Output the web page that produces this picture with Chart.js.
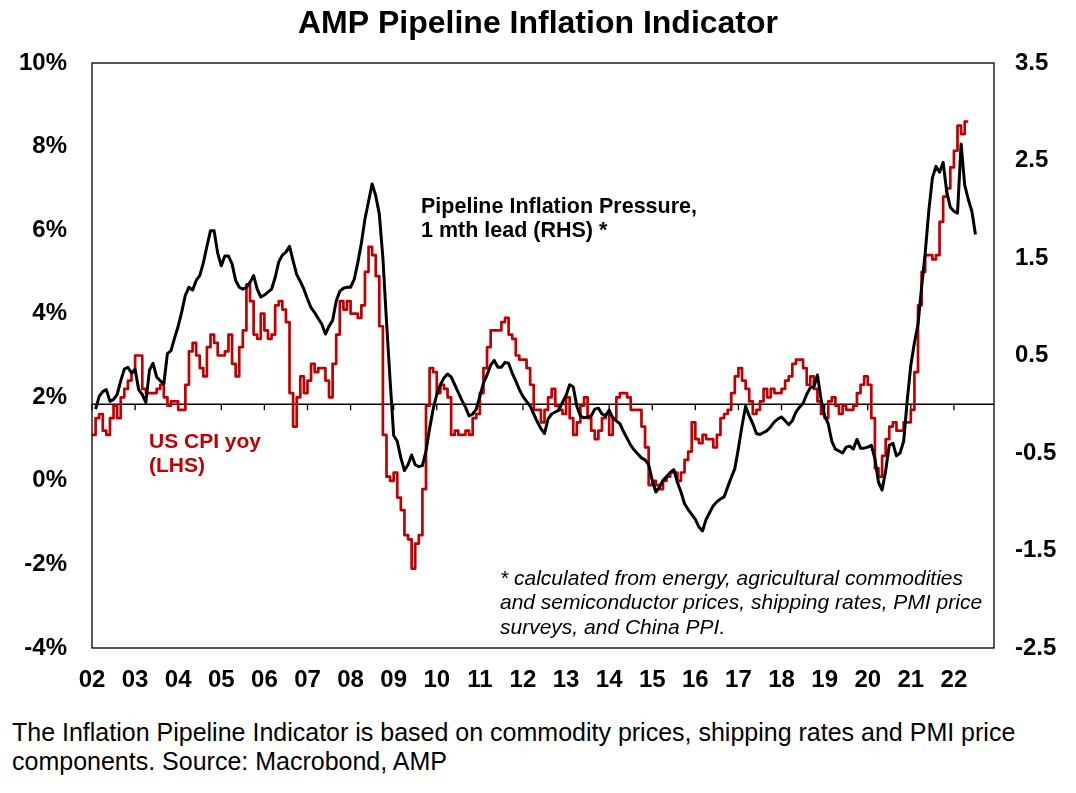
<!DOCTYPE html>
<html>
<head>
<meta charset="utf-8">
<script src="https://cdn.jsdelivr.net/npm/chart.js@4.4.1/dist/chart.umd.min.js"></script>
<style>
  html, body { margin: 0; padding: 0; background: #fff; }
  body { width: 1076px; height: 793px; position: relative; overflow: hidden;
         font-family: "Liberation Sans", Arial, sans-serif; }
  #wrap { position: absolute; left: 0; top: 0; width: 1076px; height: 710px; }
  #foot { position: absolute; left: 12px; top: 718px; font-size: 25px; line-height: 29px; color: #000; white-space: nowrap; }
</style>
</head>
<body>
<div id="wrap"><canvas id="myChart"></canvas></div>
<div id="foot">The Inflation Pipeline Indicator is based on commodity prices, shipping rates and PMI price<br>components. Source: Macrobond, AMP</div>
<script>
// x axis: years and their short labels
const years = [2002, 2003, 2004, 2005, 2006, 2007, 2008, 2009, 2010, 2011, 2012,
               2013, 2014, 2015, 2016, 2017, 2018, 2019, 2020, 2021, 2022];
const yearLabels = ['02', '03', '04', '05', '06', '07', '08', '09', '10', '11', '12',
                    '13', '14', '15', '16', '17', '18', '19', '20', '21', '22'];

// left axis (US CPI, %) and right axis (pipeline indicator) ticks
const leftTicks = [-4, -2, 0, 2, 4, 6, 8, 10];
const rightTicks = [-2.5, -1.5, -0.5, 0.5, 1.5, 2.5, 3.5];

// US CPI yoy %, monthly from Jan 2002
const cpiStart = 2002;
const cpiYoy = [
  1.1, 1.1, 1.5, 1.6, 1.2, 1.1, 1.5, 1.8, 1.5, 2.0, 2.2, 2.4,   // 2002
  2.6, 3.0, 3.0, 2.2, 2.1, 2.1, 2.1, 2.2, 2.3, 2.0, 1.8, 1.9,   // 2003
  1.9, 1.7, 1.7, 2.3, 3.1, 3.3, 3.0, 2.7, 2.5, 3.2, 3.5, 3.3,   // 2004
  3.0, 3.0, 3.1, 3.5, 2.8, 2.5, 3.2, 3.6, 4.7, 4.3, 3.5, 3.4,   // 2005
  4.0, 3.6, 3.4, 3.5, 4.2, 4.3, 4.1, 3.8, 2.1, 1.3, 2.0, 2.5,   // 2006
  2.1, 2.4, 2.8, 2.6, 2.7, 2.7, 2.4, 2.0, 2.8, 3.5, 4.3, 4.1,   // 2007
  4.3, 4.0, 4.0, 3.9, 4.2, 5.0, 5.6, 5.4, 4.9, 3.7, 1.1, 0.1,   // 2008
  0.0, 0.2, -0.4, -0.7, -1.3, -1.4, -2.1, -1.5, -1.3, -0.2, 1.8, 2.7, // 2009
  2.6, 2.1, 2.3, 2.2, 2.0, 1.1, 1.2, 1.1, 1.1, 1.2, 1.1, 1.5,   // 2010
  1.6, 2.1, 2.7, 3.2, 3.6, 3.6, 3.6, 3.8, 3.9, 3.5, 3.4, 3.0,   // 2011
  2.9, 2.9, 2.7, 2.3, 1.7, 1.7, 1.4, 1.7, 2.0, 2.2, 1.8, 1.7,   // 2012
  1.6, 2.0, 1.5, 1.1, 1.4, 1.8, 2.0, 1.5, 1.2, 1.0, 1.2, 1.5,   // 2013
  1.6, 1.1, 1.5, 2.0, 2.1, 2.1, 2.0, 1.7, 1.7, 1.7, 1.3, 0.8,   // 2014
  -0.1, 0.0, -0.1, -0.2, 0.0, 0.1, 0.2, 0.2, 0.0, 0.2, 0.5, 0.7, // 2015
  1.4, 1.0, 0.9, 1.1, 1.0, 1.0, 0.8, 1.1, 1.5, 1.6, 1.7, 2.1,   // 2016
  2.5, 2.7, 2.4, 2.2, 1.9, 1.6, 1.7, 1.9, 2.2, 2.0, 2.2, 2.1,   // 2017
  2.1, 2.2, 2.4, 2.5, 2.8, 2.9, 2.9, 2.7, 2.3, 2.5, 2.2, 1.9,   // 2018
  1.6, 1.5, 1.9, 2.0, 1.8, 1.6, 1.8, 1.7, 1.7, 1.8, 2.1, 2.3,   // 2019
  2.5, 2.3, 1.5, 0.3, 0.1, 0.6, 1.0, 1.3, 1.4, 1.2, 1.2, 1.4,   // 2020
  1.4, 1.7, 2.6, 4.2, 5.0, 5.4, 5.4, 5.3, 5.4, 6.2, 6.8, 7.0,   // 2021
  7.5, 7.9, 8.5, 8.3, 8.6                                       // 2022
];

// Pipeline inflation pressure (1 mth lead), monthly from Feb 2002
const pipeStart = 2002 + 1 / 12;
const pipeline = [
  -0.05, 0.08, 0.13, 0.15, 0.03, 0.05, 0.1, 0.24, 0.36, 0.38, 0.32,          // 2002
  0.36, 0.15, 0.1, 0.02, 0.35, 0.42, 0.28, 0.24, 0.21, 0.52, 0.55, 0.68,     // 2003
  0.8, 0.95, 1.12, 1.2, 1.17, 1.27, 1.32, 1.45, 1.62, 1.78, 1.78, 1.55,      // 2004
  1.42, 1.52, 1.52, 1.44, 1.27, 1.2, 1.18, 1.2, 1.25, 1.32, 1.18, 1.1,       // 2005
  1.12, 1.15, 1.18, 1.3, 1.46, 1.53, 1.56, 1.62, 1.47, 1.33, 1.26, 1.18,     // 2006
  1.08, 0.99, 0.94, 0.88, 0.82, 0.72, 0.8, 0.86, 1.06, 1.16, 1.19, 1.2,      // 2007
  1.2, 1.28, 1.45, 1.65, 1.9, 2.08, 2.26, 2.14, 1.95, 1.5, 0.85, 0.25,       // 2008
  -0.32, -0.38, -0.55, -0.68, -0.62, -0.52, -0.62, -0.64, -0.63, -0.48, -0.25, -0.05, // 2009
  0.1, 0.2, 0.27, 0.31, 0.28, 0.2, 0.12, 0.04, -0.03, -0.12, -0.1, -0.05,    // 2010
  0.08, 0.22, 0.3, 0.4, 0.45, 0.38, 0.38, 0.43, 0.42, 0.32, 0.24, 0.15,      // 2011
  0.08, 0.03, -0.02, -0.1, -0.18, -0.25, -0.3, -0.15, -0.1, -0.08, -0.06, 0.02, // 2012
  0.09, 0.2, 0.18, -0.02, -0.12, -0.14, -0.13, -0.12, -0.05, -0.04, -0.1, -0.12, // 2013
  -0.06, -0.14, -0.17, -0.2, -0.28, -0.35, -0.42, -0.47, -0.51, -0.55, -0.57, -0.62, // 2014
  -0.78, -0.9, -0.85, -0.78, -0.74, -0.7, -0.67, -0.8, -0.9, -1.02, -1.08, -1.13, // 2015
  -1.18, -1.26, -1.3, -1.18, -1.11, -1.04, -1.0, -0.97, -0.95, -0.85, -0.75, -0.66, // 2016
  -0.45, -0.22, -0.02, -0.12, -0.2, -0.3, -0.31, -0.29, -0.27, -0.23, -0.18, -0.15, // 2017
  -0.13, -0.17, -0.21, -0.17, -0.08, -0.03, 0.01, 0.1, 0.17, 0.18, 0.3, 0.05, // 2018
  -0.12, -0.2, -0.38, -0.46, -0.48, -0.5, -0.44, -0.43, -0.46, -0.36, -0.45, -0.45, // 2019
  -0.44, -0.42, -0.56, -0.8, -0.88, -0.68, -0.42, -0.4, -0.53, -0.5, -0.38, 0.04, // 2020
  0.4, 0.63, 0.82, 1.2, 1.55, 1.98, 2.32, 2.44, 2.38, 2.48, 2.18, 2.02,      // 2021
  1.98, 1.96, 2.67, 2.25, 2.1, 1.98, 1.74                                     // 2022
];

const FONT = '"Liberation Sans", Arial, sans-serif';
const RED = '#C00000';

function monthly(start, values) {
  return values.map((v, i) => ({ x: start + i / 12, y: v }));
}

// zero line with year ticks, frame and annotations
const overlay = {
  id: 'overlay',
  beforeDatasetsDraw(chart) {
    const { ctx, chartArea: a, scales } = chart;
    const y0 = scales.yR.getPixelForValue(0);
    ctx.save();
    ctx.strokeStyle = '#000';
    ctx.lineWidth = 1.3;
    ctx.beginPath();
    ctx.moveTo(a.left, y0);
    ctx.lineTo(a.right, y0);
    years.forEach(yr => {
      const x = scales.x.getPixelForValue(yr);
      ctx.moveTo(x, y0);
      ctx.lineTo(x, y0 + 6);
    });
    ctx.stroke();
    ctx.restore();
  },
  afterDraw(chart) {
    const { ctx, chartArea: a } = chart;
    ctx.save();
    ctx.strokeStyle = '#000';
    ctx.lineWidth = 1.3;
    ctx.strokeRect(a.left, a.top, a.right - a.left, a.bottom - a.top);

    ctx.textBaseline = 'alphabetic';
    ctx.textAlign = 'left';
    ctx.fillStyle = '#000';
    ctx.font = 'bold 21.5px ' + FONT;
    ctx.fillText('Pipeline Inflation Pressure,', 421, 213);
    ctx.fillText('1 mth lead (RHS) *', 421, 237);

    ctx.font = 'bold 21px ' + FONT;
    ctx.fillStyle = RED;
    ctx.fillText('US CPI yoy', 149, 448);
    ctx.fillText('(LHS)', 149, 472);

    ctx.fillStyle = '#000';
    ctx.font = 'italic 21px ' + FONT;
    ctx.fillText('* calculated from energy, agricultural commodities', 500, 585);
    ctx.fillText('and semiconductor prices, shipping rates, PMI price', 500, 609);
    ctx.fillText('surveys, and China PPI.', 500, 634);
    ctx.restore();
  }
};

const tickFont = { family: FONT, size: 24, weight: 'bold' };

new Chart(document.getElementById('myChart'), {
  type: 'line',
  data: {
    datasets: [{
      label: 'Pipeline Inflation Pressure',
      data: monthly(pipeStart, pipeline),
      yAxisID: 'yR',
      borderColor: '#000',
      borderWidth: 3,
      pointRadius: 0,
      tension: 0,
      borderJoinStyle: 'round'
    }, {
      label: 'US CPI yoy',
      data: monthly(cpiStart, cpiYoy),
      yAxisID: 'yL',
      borderColor: RED,
      borderWidth: 2.7,
      pointRadius: 0,
      stepped: 'after',
      borderJoinStyle: 'round'
    }]
  },
  options: {
    responsive: true,
    maintainAspectRatio: false,
    animation: false,
    events: [],
    layout: { padding: 0 },
    plugins: {
      legend: { display: false },
      tooltip: { enabled: false },
      title: {
        display: true,
        text: 'AMP Pipeline Inflation Indicator',
        color: '#000',
        font: { family: FONT, size: 32, weight: 'bold' },
        padding: { top: 5, bottom: 19.6 }
      }
    },
    scales: {
      x: {
        type: 'linear',
        min: 2002,
        max: 2022.93,
        grid: { display: false, drawTicks: false },
        border: { display: false },
        afterBuildTicks: s => { s.ticks = years.map(v => ({ value: v })); },
        afterFit: s => { s.height = 62; },
        ticks: {
          autoSkip: false,
          maxRotation: 0,
          color: '#000',
          font: tickFont,
          padding: 18,
          callback: v => yearLabels[years.indexOf(v)]
        }
      },
      yL: {
        position: 'left',
        min: -4,
        max: 10,
        grid: { display: false, drawTicks: false },
        border: { display: false },
        afterBuildTicks: s => { s.ticks = leftTicks.map(v => ({ value: v })); },
        afterFit: s => { s.width = 92; },
        ticks: { color: '#000', font: tickFont, padding: 25, callback: v => v + '%' }
      },
      yR: {
        position: 'right',
        min: -2.5,
        max: 3.5,
        grid: { display: false, drawTicks: false },
        border: { display: false },
        afterBuildTicks: s => { s.ticks = rightTicks.map(v => ({ value: v })); },
        afterFit: s => { s.width = 82; },
        ticks: { color: '#000', font: tickFont, padding: 21, callback: v => v.toFixed(1) }
      }
    }
  },
  plugins: [overlay]
});
</script>
</body>
</html>
